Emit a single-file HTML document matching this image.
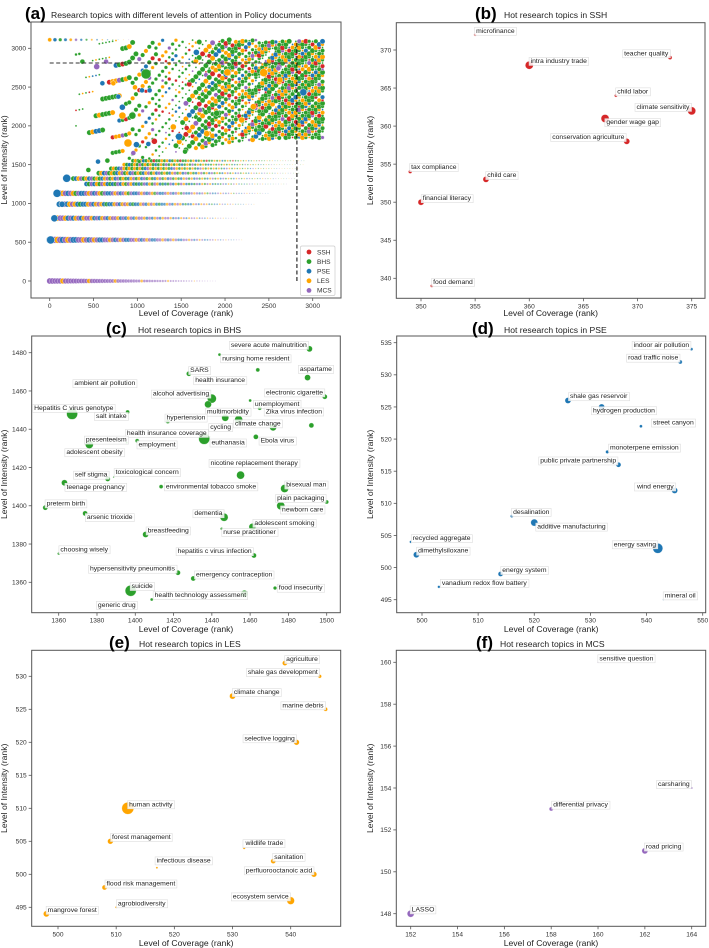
<!DOCTYPE html>
<html><head><meta charset="utf-8">
<style>
html,body{margin:0;padding:0;background:#fff;}
svg{display:block;font-family:"Liberation Sans","DejaVu Sans",sans-serif;}
</style></head>
<body>
<svg id="fig" width="709" height="948" viewBox="0 0 709 948" xmlns="http://www.w3.org/2000/svg"></svg>
<script>
// ---------- data ----------
const catColors = {S:'#d62728',B:'#2ca02c',P:'#1f77b4',L:'#ffa500',M:'#9467bd'};
const legendCats = ['SSH','BHS','PSE','LES','MCS'];
const legendKeys = ['S','B','P','L','M'];

const aTicksX = [0,500,1000,1500,2000,2500,3000];
const aTicksY = [0,500,1000,1500,2000,2500,3000];
const aThreshX = [2820];
const aThreshY = [2810];
const aRowLevels = [0,530,810,990,1130,1250,1320,1390,1450,1500,1550,3110];
const aRowXmin =   [0,0,60,110,90,420,270,560,700,850,950,0];
const aRowXmax =   [1900,2200,2150,2350,2500,2700,2800,2850,2850,2900,2900,900];
const aRowColors = ['MMMMMLMMMM','PMMLMPMLMB','PLMMLPMBLM','PLMBLMLPGB','PMLMBMLGMB','PGMBLGMLBG','GBLMGLBMGL','GLBMGLGBLM','GLGBMLGOGL','LGBGLGMGLG','GLGLBGLGRG','LPGBLMPGLB'];
const aRowR = [3,3.5,3,3,3,2.5,2.5,2.5,2.2,2,2,2];
const aCloudEdgeX = [300,900,1200,1500,1800,2100,2400,2700,3150];
const aCloudEdgeY = [2000,1500,1600,1680,1740,1800,1830,1850,1850];
const aCloudDensity = [0.08,0.15,0.25,0.35,0.5,0.7,0.85,0.95,0.9];
const aCloudColors = 'GGLGRGLBGGLGMGLRGBGLGG';
const aBigX = [84,194,53,11,141,1099,829,943,893,989,829,536,1673,1475,1194,2026,2441,2893,1410,1791,1715,783,1053,1140,726,601,643,373,973,441,551,658,954,1125,1544,1563,2608,2190,2323,2627,1905];
const aBigY = [1130,1324,808,529,989,2669,2132,2132,1779,1758,2240,2764,2948,1861,1801,2690,2686,2433,1986,1900,2205,2377,2458,2458,2549,2549,2828,2828,2497,1431,1539,1552,1650,1766,1668,1973,2742,2076,2248,2592,2162];
const aBigC = 'PPPPPGLGLPPMPPRLLPLLMPPPLPMGLGPGMPGRMLLLG';
const aBigR = [4,4,3.5,4,3,5,3.5,3.5,4,3,3,3,3,3.5,3,3.5,4,3.5,3,3,2.5,2.5,2.5,2.5,2.5,2.5,2.5,2.5,2.5,2.5,2.5,2.5,2.5,2.5,2.5,2.5,2.5,3,3,3,3];

// panel b (SSH)
const bNames = ['microfinance','intra industry trade','teacher quality','child labor','climate sensitivity','gender wage gap','conservation agriculture','tax compliance','child care','financial literacy','food demand'];
const bX = [355,360,373,368,375,367,369,349,356,350,351];
const bY = [372,368,369,364,362,361,358,354,353,350,339];
const bR = [1.3,4,2,1.5,4,4,3,1.8,3,3,1.5];
const bTicksX = [350,355,360,365,370,375];
const bTicksY = [340,345,350,355,360,365,370];

// panel c (BHS)
const cNames = ['severe acute malnutrition','nursing home resident','SARS','health insurance','aspartame','ambient air pollution','alcohol advertising','electronic cigarette','Hepatitis C virus genotype','salt intake','unemployment','multimorbidity','Zika virus infection','hypertension','cycling','climate change','','','health insurance coverage','euthanasia','Ebola virus','presenteeism','adolescent obesity','employment','nicotine replacement therapy','self stigma','toxicological concern','teenage pregnancy','environmental tobacco smoke','bisexual man','plain packaging','newborn care','preterm birth','arsenic trioxide','dementia','adolescent smoking','nurse practitioner','breastfeeding','choosing wisely','hepatitis c virus infection','hypersensitivity pneumonitis','emergency contraception','food insecurity','suicide','health technology assessment','generic drug'];
const cX = [1491,1444,1428,1464,1490,1400,1440,1499,1367,1396,1460,1438,1465,1417,1447,1454,1472,1492,1439,1436,1463,1395.5,1376,1401,1455,1385.6,1388.7,1363,1413.5,1478,1500,1476,1353,1373.8,1446.4,1461.2,1445.1,1405.4,1360,1462,1422.3,1430.3,1473,1397.6,1457,1408.6];
const cY = [1482,1479,1469,1471,1467,1462,1456,1457,1448,1449,1455,1453,1451,1444,1446,1445,1441,1442,1436,1435,1436,1433,1432,1434,1416,1414,1415,1412,1410,1409,1402,1400,1399,1396,1394,1389,1388,1385,1375,1374,1365,1362,1357,1355.6,1354,1351];
const cR = [3,1.5,2.5,2,3,0,4.5,2.5,5.5,2,1.5,3.5,2,2,3.5,4,3.5,2.5,0.3,5.5,2.5,1,4,2,4,2.5,0.7,3,2,4,2,4,2.5,2.5,4,3.5,1.3,3,1.3,2.5,2.5,2.5,1.8,5.5,3.5,1.5];
const cTicksX = [1360,1380,1400,1420,1440,1460,1480,1500];
const cTicksY = [1360,1380,1400,1420,1440,1460,1480];

// panel d (PSE)
const dNames = ['indoor air pollution','road traffic noise','shale gas reservoir','hydrogen production','street canyon','monoterpene emission','public private partnership','wind energy','desalination','additive manufacturing','recycled aggregate','dimethylsiloxane','energy saving','energy system','vanadium redox flow battery','mineral oil'];
const dX = [548,546,526,532,539,533,535,545,516,520,498,499,542,514,503,543];
const dY = [534,532,526,525,522,518,516,512,508,507,504,502,503,499,497,495];
const dR = [1.5,2,3,3,1.5,1.7,2.5,3,1.5,3.5,1.3,3,5,2.5,1.3,0.7];
const dTicksX = [500,510,520,530,540,550];
const dTicksY = [495,500,505,510,515,520,525,530,535];

// panel e (LES)
const eNames = ['agriculture','shale gas development','climate change','marine debris','selective logging','human activity','forest management','wildlife trade','infectious disease','sanitation','perfluorooctanoic acid','flood risk management','ecosystem service','agrobiodiversity','mangrove forest'];
const eX = [539,545,530,546,541,512,509,532,517,537,544,508,540,510,498];
const eY = [532,530,527,525,520,510,505,504,501,502,500,498,496,495,494];
const eR = [2.5,1.8,3,2,2.8,6,2.8,1.3,1,2.5,2.8,2.5,3.8,1,3];
const eTicksX = [500,510,520,530,540];
const eTicksY = [495,500,505,510,515,520,525,530];

// panel f (MCS)
const fNames = ['sensitive question','carsharing','differential privacy','road pricing','LASSO'];
const fX = [160,164,158,162,152];
const fY = [160,154,153,151,148];
const fR = [0.7,1,2,3,3.5];
const fTicksX = [152,154,156,158,160,162,164];
const fTicksY = [148,150,152,154,156,158,160];

// ---------- layout (label placement: anchor, dx, dy in px) ----------
const bLay = [['s',1,-2],['s',1.3,-2.3],['e',-1.7,-2.3],['s',1.3,-2.3],['e',-2.3,-2],['s',1.3,5.7],['e',-2.3,-2.3],['s',1,-2.7],['s',1.3,-2.3],['s',1.7,-2],['s',1.3,-2]];
const cLay = [['e',-2.7,-2],['s',2.7,5.7],['s',1.3,-1.7],['e',-12.7,12.3],['s',-7.7,-6.7],['e',0,-2],['e',-2.7,-3],['e',-1.7,-2.3],['s',-38,-4],['e',-1,6],['s',4.7,5.3],['s',-1,9.3],['s',6,5.3],['s',-1.3,-2],['s',-15,11.3],['s',-3.7,5.7],null,null,['s',-83,-2],['s',7.3,5.7],['s',4.7,5.7],['e',0,-1],['s',-23,9.7],['s',1.3,5.7],['s',-30,-10.3],['e',-0.3,-2.3],['s',2,-3],['s',2,6],['s',4.7,1.7],['s',1.7,-2],['e',-2.3,-2],['s',1.3,5.7],['s',1.3,-2.3],['s',1.7,5.7],['e',-1.7,-2],['s',2,-2],['s',1.7,5.3],['s',2,-2],['s',1.7,-2.3],['e',-2.3,-2.3],['e',-3,-2],['s',2.7,-2],['s',3.7,1.7],['s',1,-2.7],['e',1.7,3.3],['e',-16,7.3]];
const dLay = [['e',-2.3,-2.3],['e',-2,-2.3],['s',2,-2.3],['s',-8.7,5.3],['s',12,-1.7],['s',2.7,-2.3],['e',-2.3,-2.3],['e',-1,-2],['s',1.3,-2.3],['s',3,6],['s',2,-1.7],['s',1.7,-2],['e',-1.7,-2],['s',1.7,-2],['s',3,-2],['s',1.3,-2.3]];
const eLay = [['s',1.3,-2],['e',-2,-2.3],['s',1.3,-2],['e',-2,-2],['e',-1.7,-2],['s',1.3,-2],['s',1.7,-2.3],['s',1.3,-2.7],['s',-0.3,-5.3],['s',1,-2.3],['e',-1.7,-2],['s',2,-2],['e',-2,-2.3],['s',1.7,-2],['s',1.3,-2]];
const fLay = [['s',1.3,-2],['e',-2,-2],['s',2,-2.3],['s',1,-2.3],['s',1,-2.3]];

// ---------- helpers ----------
const NS = 'http://www.w3.org/2000/svg';
const svg = document.getElementById('fig');
const codeMap = {G:'B',O:'L',R:'S',B:'P',S:'S',L:'L',M:'M',P:'P'};
function colorOf(ch){ return catColors[codeMap[ch]] || catColors.B; }
function mk(tag, attrs, parent){
  const e = document.createElementNS(NS, tag);
  for (const k in attrs) e.setAttribute(k, attrs[k]);
  (parent||svg).appendChild(e);
  return e;
}
function scale(v0,p0,v1,p1){ return v => p0 + (v - v0) * (p1 - p0) / (v1 - v0); }

function makeAxes(g, box, sx, sy, tx, ty, name){
  const [l,t,r,b] = box;
  const frame = mk('rect',{x:l,y:t,width:r-l,height:b-t,fill:'none',stroke:'#555','stroke-width':1},g);
  
  
  tx.forEach(v=>{
    const x = sx(v);
    const tk = mk('line',{x1:x,x2:x,y1:b,y2:b+3,stroke:'#555','stroke-width':0.8},g);
    
    
    const tl = mk('text',{x:x,y:b+10,'font-size':6.6,fill:'#333','text-anchor':'middle'},g);
    tl.textContent = v;
    
    
  });
  ty.forEach(v=>{
    const y = sy(v);
    const tk = mk('line',{x1:l-3,x2:l,y1:y,y2:y,stroke:'#555','stroke-width':0.8},g);
    
    
    const tl = mk('text',{x:l-5,y:y+2.3,'font-size':6.6,fill:'#333','text-anchor':'end'},g);
    tl.textContent = v;
    
    
  });
}
function axisTitles(g, box, xBase, yLabelX, name){
  const [l,t,r,b] = box;
  const xl = mk('text',{x:(l+r)/2,y:xBase,'font-size':8.6,fill:'#222','text-anchor':'middle'},g);
  xl.textContent = 'Level of Coverage (rank)';
  
  
  const cy = (t+b)/2;
  const yl = mk('text',{x:yLabelX,y:cy,'font-size':8.6,fill:'#222','text-anchor':'middle',transform:`rotate(-90 ${yLabelX} ${cy})`},g);
  yl.textContent = 'Level of Intensity (rank)';
  
  
}
function panelTitle(g, letter, lx, text, tx, base){
  const lt = mk('text',{x:lx,y:base,'font-size':17,'font-weight':'bold',fill:'#000'},g);
  lt.textContent = letter;
  
  
  const tt = mk('text',{x:tx,y:base-1,'font-size':8.6,fill:'#222'},g);
  tt.textContent = text;
  
  
}
function scatterPanel(g, name, xs, ys, rs, names, lay, color, sx, sy){
  const lg = mk('g',{},g);
  xs.forEach((xv,i)=>{
    const px = sx(xv), py = sy(ys[i]);
    if (rs[i] > 0){
      const c = mk('circle',{cx:px,cy:py,r:rs[i],fill:color,stroke:'#fff','stroke-width':0.3},g);
      
      
    }
    const L = lay[i];
    if (!names[i] || !L) return;
    const t = mk('text',{x:px+L[1],y:py+L[2],'font-size':6.8,fill:'#222','text-anchor':L[0]==='e'?'end':'start'},lg);
    t.textContent = names[i];
    
    
    const bb = t.getBBox();
    const rect = mk('rect',{x:bb.x-1.5,y:bb.y-0.5,width:bb.width+3,height:bb.height+1,fill:'#fff','fill-opacity':0.85,stroke:'#ddd','stroke-width':0.6});
    lg.insertBefore(rect, t);
    
    
  });
  g.appendChild(lg);
}

// ---------- panel (a) ----------
(function(){
  const g = mk('g',{});
  
  
  const box = [31,22,341,298];
  const sx = scale(0,49.7,3000,312.7), sy = scale(0,281,3000,48.3);
  const pts = mk('g',{},g);
  aRowLevels.forEach((lev,ri)=>{
    const x0 = aRowXmin[ri], x1 = aRowXmax[ri], pat = aRowColors[ri];
    let k = 0;
    const step = ri===aRowLevels.length-1 ? 60 : 30;
    for (let xv = x0; xv <= x1; xv += step, k++){
      const tt = (xv - x0) / (x1 - x0);
      const col = colorOf(pat[k % pat.length]);
      const c = mk('circle',{cx:sx(xv),cy:sy(lev),r:Math.max(0.5,aRowR[ri]*(1-tt*0.85)),fill:col,stroke:'#fff','stroke-width':0.3,'fill-opacity':1-tt*0.6},pts);
      
      
    }
  });
  function edgeAt(xv){
    for (let i=0;i<aCloudEdgeX.length-1;i++){
      if (xv>=aCloudEdgeX[i] && xv<=aCloudEdgeX[i+1]){
        const f=(xv-aCloudEdgeX[i])/(aCloudEdgeX[i+1]-aCloudEdgeX[i]);
        return [aCloudEdgeY[i]+f*(aCloudEdgeY[i+1]-aCloudEdgeY[i]), aCloudDensity[i]+f*(aCloudDensity[i+1]-aCloudDensity[i])];
      }
    }
    return null;
  }
  let i=0;
  for (let xv=300; xv<=3140; xv+=38, i++){
    const e = edgeAt(xv); if(!e) continue;
    let j=0;
    for (let yv=e[0]; yv<=3110; yv+=40, j++){
      if (((i*37 + j*61) % 100) >= e[1]*100) continue;
      const col = colorOf(aCloudColors[(i*7+j*3) % aCloudColors.length]);
      const c = mk('circle',{cx:sx(xv),cy:sy(yv),r:1.0+((i*13+j*7)%5)*0.4,fill:col,stroke:'#fff','stroke-width':0.3},pts);
      
      
    }
  }
  aBigX.forEach((xv,k)=>{
    const c = mk('circle',{cx:sx(xv),cy:sy(aBigY[k]),r:aBigR[k],fill:colorOf(aBigC[k]),stroke:'#fff','stroke-width':0.4},pts);
    
    
  });
  const hl = mk('line',{x1:sx(0),x2:sx(aThreshX[0]),y1:sy(aThreshY[0]),y2:sy(aThreshY[0]),stroke:'#333','stroke-width':1,'stroke-dasharray':'4,2.5'},g);
  
  
  const vl = mk('line',{x1:sx(aThreshX[0]),x2:sx(aThreshX[0]),y1:sy(0),y2:sy(3100),stroke:'#000','stroke-width':1,'stroke-dasharray':'4,2.5'},g);
  
  
  makeAxes(g, box, sx, sy, aTicksX, aTicksY, 'panel-a');
  axisTitles(g, box, 316, 7, 'panel-a');
  panelTitle(g, '(a)', 25, 'Research topics with different levels of attention in Policy documents', 51, 19);
  const lgd = mk('g',{},g);
  
  
  mk('rect',{x:300.5,y:246,width:34.5,height:49.5,fill:'#fff','fill-opacity':0.9,stroke:'#ccc','stroke-width':0.7,rx:1.5},lgd);
  legendCats.forEach((n,k)=>{
    const y = 252 + k*9.6;
    const d = mk('circle',{cx:309,cy:y,r:2.4,fill:catColors[legendKeys[k]]},lgd);
    
    
    const t = mk('text',{x:317,y:y+2.3,'font-size':6.6,fill:'#333'},lgd);
    t.textContent = n;
    
    
  });
})();

// ---------- panels b-f ----------
function subPanel(id, box, sx, sy, tx, ty, xs, ys, rs, names, lay, color, letter, lx, title, tX, base, xBase, yLX){
  const g = mk('g',{});
  
  
  makeAxes(g, box, sx, sy, tx, ty, id);
  scatterPanel(g, id, xs, ys, rs, names, lay, color, sx, sy);
  axisTitles(g, box, xBase, yLX, id);
  panelTitle(g, letter, lx, title, tX, base);
}
subPanel('panel-b',[396.3,22.7,705,298.3],scale(350,421,375,691.7),scale(370,50,340,278.3),bTicksX,bTicksY,bX,bY,bR,bNames,bLay,catColors.S,'(b)',475,'Hot research topics in SSH',504,19,316,373);
subPanel('panel-c',[31.7,336,340.3,612.7],scale(1360,58.7,1500,326.7),scale(1480,352.7,1360,582.3),cTicksX,cTicksY,cX,cY,cR,cNames,cLay,catColors.B,'(c)',106,'Hot research topics in BHS',138,334,632,7);
subPanel('panel-d',[396.7,336,705.7,612.7],scale(500,422,550,702.7),scale(535,342.7,495,599.7),dTicksX,dTicksY,dX,dY,dR,dNames,dLay,catColors.P,'(d)',472,'Hot research topics in PSE',504,334,632,373);
subPanel('panel-e',[31.7,650.3,340.7,926.3],scale(500,58,540,290.7),scale(530,676.3,495,907.3),eTicksX,eTicksY,eX,eY,eR,eNames,eLay,catColors.L,'(e)',109,'Hot research topics in LES',139,648,946,7);
subPanel('panel-f',[396.3,650.3,705.7,926.3],scale(152,410.7,164,691.7),scale(160,662.3,148,913.7),fTicksX,fTicksY,fX,fY,fR,fNames,fLay,catColors.M,'(f)',476,'Hot research topics in MCS',500,648,946,373);
</script>
</body></html>
